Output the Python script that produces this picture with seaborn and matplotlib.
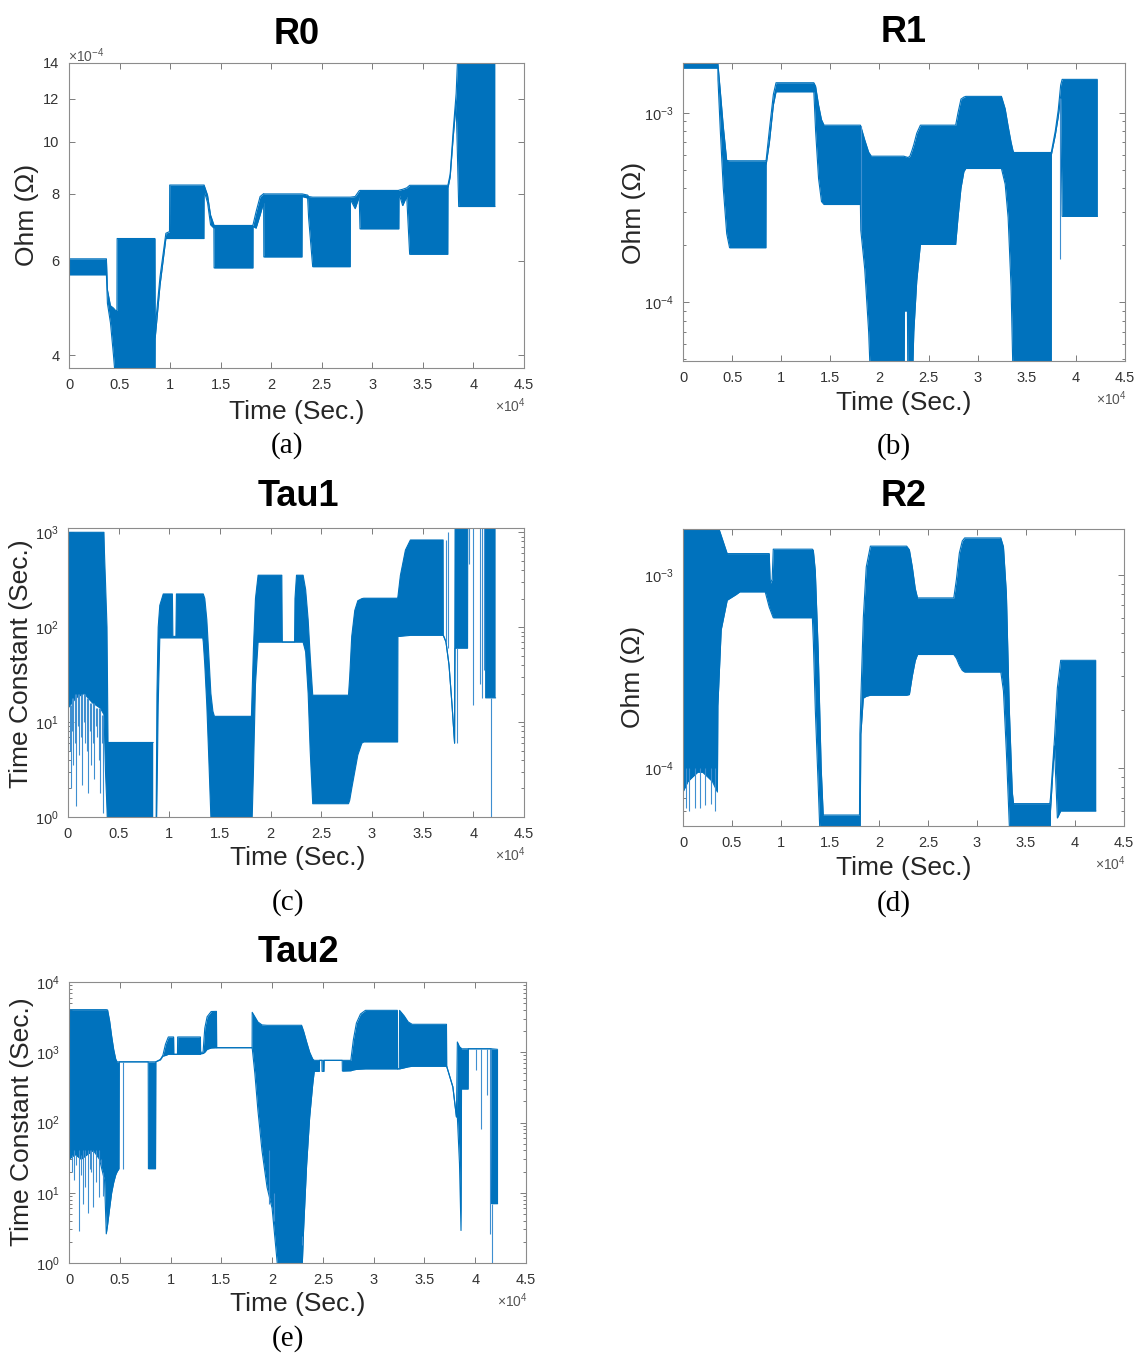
import numpy as np
import matplotlib
matplotlib.use("Agg")
import matplotlib.pyplot as plt
import seaborn as sns
from matplotlib.ticker import FixedLocator, NullLocator, LogLocator, NullFormatter

nan = np.nan

# ---------------- DATA (time in s, envelopes) ----------------
# R0 (x1e-4 Ohm)
r0_t  = [0, 3700, 3800, 4100, 4400, 4600, 4740, 4760, 8500, 8520, 9000, 9580, 9940, 9960, 13340,
         13360, 13700, 14000, 14330, 14350, 18190, 18200, 18500, 18900, 19250, 19270, 23040,
         23060, 23600, 23700, 24100, 27810, 27830, 28300, 28700, 28780, 32620, 32640, 33000,
         33400, 33690, 37460, 37480, 37700, 38000, 38290, 38540, 42120]
r0_hi = [6.05, 6.05, 5.3, 4.95, 4.9, 4.85, 4.85, 6.6, 6.6, 4.5, 5.6, 6.75, 6.8, 8.3, 8.3,
         8.3, 7.95, 7.3, 7.0, 6.98, 6.98, 7.0, 7.4, 7.9, 8.0, 7.99, 7.99,
         7.99, 7.95, 7.9, 7.88, 7.88, 7.88, 7.9, 8.1, 8.11, 8.11, 8.12, 8.15,
         8.2, 8.29, 8.29, 8.3, 8.7, 10.5, 12.3, 16.0, 16.0]
r0_lo = [5.65, 5.65, 5.0, 4.6, 4.0, 3.6, 3.5, 3.5, 3.5, 4.3, 5.4, 6.6, 6.6, 6.6, 6.6,
         8.1, 7.7, 7.0, 6.9, 5.82, 5.82, 6.95, 6.9, 7.3, 7.7, 6.1, 6.1,
         7.9, 7.85, 7.2, 5.85, 5.85, 7.8, 7.5, 7.9, 6.88, 6.88, 8.0, 7.6,
         7.9, 6.17, 6.17, 8.2, 8.6, 10.2, 11.8, 7.57, 7.57]
r0_yticks = [4, 6, 8, 10, 12, 14]

# R1 (x1e-4 Ohm)
r1_t  = [0, 3550, 3560, 3800, 4100, 4450, 4740, 8440, 8460, 8800, 9200, 9470, 13320,
         13500, 13800, 14100, 14360, 18060, 18100, 18500, 18900, 19170, 22500, 22550,
         22850, 22900, 23100, 23300, 23500, 23800, 24170, 27760, 28000, 28300, 28600,
         28790, 32420, 32800, 33100, 33400, 33600, 33680, 37490, 37500, 37900, 38200,
         38450, 38600, 42190]
r1_hi = [18.3, 18.3, 18.0, 13.0, 8.5, 5.6, 5.58, 5.58, 5.6, 8.2, 12.5, 14.4, 14.4,
         13.8, 11.0, 9.2, 8.6, 8.6, 8.5, 7.2, 6.2, 5.9, 5.9, 5.88,
         5.82, 5.8, 5.9, 6.3, 6.8, 7.8, 8.6, 8.6, 10.0, 11.8, 12.1,
         12.2, 12.2, 10.5, 8.5, 7.0, 6.3, 6.17, 6.17, 6.2, 8.0, 10.3,
         14.0, 15.0, 15.0]
r1_lo = [17.2, 17.2, 15.0, 8.0, 4.0, 2.3, 1.94, 1.94, 5.3, 7.0, 11.0, 12.9, 12.9,
         8.0, 4.5, 3.4, 3.28, 3.28, 2.4, 1.5, 0.7, 0.3, 0.3, 0.9,
         0.9, 0.3, 0.3, 0.3, 0.7, 1.3, 2.02, 2.02, 2.8, 4.0, 4.9,
         5.08, 5.08, 4.2, 2.8, 1.2, 0.4, 0.3, 0.3, 6.0, 7.6, 9.5,
         12.0, 2.84, 2.84]
r1_spk_t  = [18150, 38350]
r1_spk_lo = [2.4, 1.7]
r1_spk_hi = [8.5, 12.0]

# R2 (x1e-4 Ohm)
r2_t  = [0, 500, 1000, 1500, 2000, 2500, 3000, 3510, 3560, 3900, 4510, 5400, 5800, 8390,
         8800, 8900, 9100, 9210, 13200, 13300, 13500, 13800, 14100, 14310, 18010, 18050,
         18150, 18400, 18700, 19120, 22820, 23100, 23400, 23700, 23930, 27630, 27900,
         28200, 28500, 28740, 32430, 32700, 33000, 33300, 33600, 33730, 37430, 37500,
         37900, 38200, 38540, 42120]
r2_hi = [18, 18, 18, 18, 18, 18, 18, 18, 18, 16, 12.9, 12.9, 12.9, 12.9,
         12.9, 9.0, 9.5, 13.6, 13.6, 13.4, 10.5, 4.0, 1.0, 0.57, 0.57, 1.5,
         2.3, 6.0, 11.0, 14.1, 14.1, 13.5, 11.0, 8.5, 7.6, 7.6, 9.5,
         13.0, 15.0, 15.55, 15.55, 14.0, 8.0, 2.0, 0.75, 0.653, 0.653, 0.7,
         1.4, 2.6, 3.61, 3.61]
r2_lo = [0.75, 0.85, 0.9, 0.95, 0.95, 0.9, 0.85, 0.75, 2.1, 5.2, 7.4, 7.9, 8.17, 8.17,
         6.8, 6.6, 6.2, 6.0, 6.0, 4.5, 2.0, 0.8, 0.3, 0.3, 0.3, 0.3,
         1.5, 2.3, 2.35, 2.38, 2.38, 2.4, 3.0, 3.6, 3.87, 3.87, 3.7,
         3.4, 3.2, 3.14, 3.14, 2.5, 1.2, 0.5, 0.3, 0.3, 0.3, 0.6,
         1.3, 0.55, 0.598, 0.598]
r2_spk_t  = [260, 630, 1180, 1740, 2290, 2850, 3220]
r2_spk_lo = [0.62, 0.6, 0.62, 0.62, 0.64, 0.65, 0.6]
r2_spk_hi = [1.0, 1.0, 1.0, 1.0, 1.0, 1.0, 1.0]

# Tau1 (s)
t1_t  = [0, 800, 1600, 2400, 3200, 3550, 3600, 3700, 3850, 3950, 8410, nan,
         8700, 8780, 8900, 9060, 9400, 10300, 10350, 10650, 10700, 13300, 13350, 13500,
         13700, 13900, 14100, 14300, 14450, 18050, 18100, 18300, 18500, 18760, 21100,
         21150, 22360, 22400, 22550, 23200, 23450, 23700, 23900, 24150, 27680, 27800,
         28000, 28300, 28600, 29000, 29190, 32530, 32560, 32800, 33300, 33790, 37020,
         37040, 37300, 37600, 37900, 38150, 38200, 39430, 39450, 41200, 41220, 42200]
t1_hi = [1000, 1000, 1000, 1000, 1000, 1000, 600, 300, 100, 6.1, 6.1, nan,
         1.0, 20, 100, 170, 224, 224, 80, 80, 224, 224, 224, 200,
         120, 50, 20, 13, 11.5, 11.5, 11.5, 60, 200, 353, 353,
         70, 70, 200, 353, 353, 250, 120, 50, 19.2, 19.2, 30,
         80, 150, 190, 200, 202, 202, 210, 350, 650, 830, 830,
         82, 70, 40, 15, 6, 1200, 1200, 1200, 1200, 1200, 1200]
t1_lo = [14, 18, 20, 16, 14, 12, 8, 3, 1.2, 0.5, 0.5, nan,
         0.5, 1.5, 15, 77, 77, 77, 77, 77, 77, 77, 70, 40,
         15, 4, 1, 0.5, 0.5, 0.5, 0.5, 3, 25, 69.5, 69.5,
         69.5, 69.5, 69.5, 69.5, 69.5, 55, 20, 5, 1.38, 1.38, 1.5,
         2.0, 3.0, 4.5, 6.0, 6.17, 6.17, 80, 80, 81, 82, 82,
         82, 70, 40, 15, 6, 60, 60, 1200, 1200, 18, 18]
t1_spk_t  = [150, 250, 400, 500, 650, 800, 950, 1100, 1250, 1400, 1550, 1700, 1850, 2000,
             2150, 2300, 2450, 2600, 2750, 2900, 3050, 3200, 3350, 3500,
             37300, 37460, 38400, 39600, 40000, 40700, 40900, 41050, 41770]
t1_spk_lo = [5, 2.0, 8, 3.5, 6, 1.3, 9, 4.5, 7, 2.2, 10, 6, 5, 1.8,
             8, 3.5, 6, 2.5, 9, 7, 4, 1.8, 6, 1.1,
             70, 60, 6, 460, 15, 25, 18, 35, 1.0]
t1_spk_hi = [15, 15, 18, 18, 20, 20, 20, 20, 20, 20, 20, 20, 18, 18,
             16, 16, 16, 16, 14, 14, 14, 14, 12, 12,
             830, 1000, 60, 1200, 1200, 1200, 1200, 1200, 18]

# Tau2 (s)
t2_t  = [0, 600, 1200, 1800, 2400, 3000, 3500, 3670, 3800, 4000, 4200, 4400, 4600, 4740,
         4920, 4950, 7800, 7820, 8520, 8550, 9000, 9240, 9500, 9780, 10300, 10320, 10680,
         10700, 12940, 12960, 13200, 13370, 13600, 14000, 14520, 14540, 18030, 18040,
         18300, 18600, 19000, 19500, 20000, 20700, 22900, 23100, 23400, 23700, 24000,
         24150, 24650, 24670, 24900, 24920, 25100, 25120, 26900, 26920, 27750, 28000,
         28300, 28700, 29190, 32330, 32350, 32530, 32550, 33000, 33400, 33790, 37170,
         37190, 37800, 38150, 38240, 38450, 38600, 38650, 39300, 39320, 41550, 41600, 42200]
t2_hi = [4040, 4040, 4040, 4040, 4040, 4040, 4040, 4040, 4000, 2800, 1700, 1100, 800, 730,
         730, 730, 730, 730, 730, 730, 790, 900, 1300, 1650, 1650, 935, 935,
         1650, 1650, 1000, 1000, 2200, 3200, 3800, 3820, 1160, 1160, 3700,
         3200, 2700, 2450, 2420, 2420, 2420, 2420, 2000, 1400, 1000, 800,
         767, 767, 767, 767, 767, 767, 767, 767, 767, 767, 1500,
         2600, 3500, 3950, 3950, 580, 580, 3950, 3300, 2700, 2500, 2500,
         631, 320, 120, 1400, 1200, 1150, 1120, 1120, 1120, 1120, 1120, 1100]
t2_lo = [30, 35, 30, 35, 40, 30, 15, 2.6, 3.5, 6, 10, 14, 18, 20,
         22, 730, 730, 22, 22, 730, 780, 880, 900, 935, 935, 935, 935,
         935, 935, 950, 960, 1000, 1100, 1150, 1160, 1160, 1160, 1150,
         500, 150, 40, 12, 6, 0.5, 0.5, 3, 25, 120, 350,
         535, 535, 767, 767, 535, 535, 767, 767, 540, 545, 560,
         570, 575, 580, 580, 580, 580, 580, 600, 620, 631, 631,
         631, 320, 120, 120, 26, 2.9, 300, 300, 1120, 1120, 7, 7]
t2_spk_t  = [300, 500, 700, 970, 1150, 1330, 1600, 1870, 2050, 2200, 2410, 2700, 2950, 3150,
             3300, 5280, 19660, 20200, 22950, 40100, 40600, 41200, 41500, 41700]
t2_spk_lo = [20, 15, 25, 2.9, 18, 7, 12, 5.1, 22, 20, 6.3, 14, 8.8, 25,
             9, 22, 7, 4, 1.8, 550, 80, 250, 2.6, 1.0]
t2_spk_hi = [35, 40, 35, 40, 35, 40, 40, 40, 40, 40, 40, 40, 40, 30,
             20, 730, 40, 10, 2.4, 1120, 1120, 1120, 1120, 7]

time_ticks = [0, 5000, 10000, 15000, 20000, 25000, 30000, 35000, 40000, 45000]
time_labels = ["0", "0.5", "1", "1.5", "2", "2.5", "3", "3.5", "4", "4.5"]

# ---------------- STYLE ----------------
sns.set_theme(style="white")
plt.rcParams["font.family"] = ["Liberation Sans", "DejaVu Sans"]
plt.rcParams["mathtext.fontset"] = "custom"
plt.rcParams["mathtext.rm"] = "Liberation Sans"
plt.rcParams["mathtext.it"] = "Liberation Sans:italic"

BLUE = "#0072BD"
LIGHT = "#3f8fd0"
W, H = 1139, 1353

fig = plt.figure(figsize=(W / 100, H / 100), dpi=100)


def add_axes(l, t, r, b):
    return fig.add_axes([l / W, 1 - b / H, (r - l) / W, (b - t) / H])


def draw(ax, t, hi, lo, scale, spk=None):
    t = np.asarray(t, float)
    hi = np.asarray(hi, float) * scale
    lo = np.asarray(lo, float) * scale
    ax.fill_between(t, lo, hi, color=BLUE, lw=0, interpolate=False)
    ax.plot(t, hi, color=BLUE, lw=0.8)
    ax.plot(t, lo, color=BLUE, lw=0.8)
    if spk is not None:
        st, slo, shi = spk
        ax.vlines(st, np.asarray(slo) * scale, np.asarray(shi) * scale, color=LIGHT, lw=0.8)


def style(ax, ylim):
    ax.set_yscale("log")
    ax.set_xlim(0, 45000)
    ax.set_ylim(*ylim)
    ax.xaxis.set_major_locator(FixedLocator(time_ticks))
    ax.set_xticklabels(time_labels)
    for s in ax.spines.values():
        s.set_color("#8c8c8c")
        s.set_linewidth(0.8)
    ax.tick_params(which="both", direction="in", top=True, right=True, bottom=True, left=True,
                   color="#666666", width=0.6, labelcolor="#333333", labelsize=10.5, pad=7)
    ax.tick_params(which="major", length=4)
    ax.tick_params(which="minor", length=2.5)
    ax.set_facecolor("white")


def texts(cx, title, ty, ylab, yx, yy, xly, cap, capy, ax_r, ax_b, size_title=26):
    fig.text(cx / W, 1 - ty / H, title, ha="center", va="center", fontsize=size_title,
             fontweight="bold", color="black")
    fig.text(yx / W, 1 - yy / H, ylab, ha="center", va="center", rotation=90,
             fontsize=19, color="#262626")
    fig.text(cx / W, 1 - xly / H, "Time (Sec.)", ha="center", va="center", fontsize=19,
             color="#262626")
    fig.text((cx - 10) / W, 1 - capy / H, cap, ha="center", va="center", fontsize=21,
             family=["Liberation Serif", "DejaVu Serif"], color="black")
    fig.text((ax_r - 14) / W, 1 - (ax_b + 38) / H, r"$\times10^{4}$", ha="center", va="center",
             fontsize=10, color="#555555")


# (a) R0
ax = add_axes(69, 63, 524, 368)
draw(ax, r0_t, r0_hi, r0_lo, 1e-4)
style(ax, (3.79e-4, 14e-4))
ax.yaxis.set_major_locator(FixedLocator([v * 1e-4 for v in r0_yticks]))
ax.yaxis.set_minor_locator(NullLocator())
ax.set_yticklabels([str(v) for v in r0_yticks])
fig.text(86 / W, 1 - 56 / H, r"$\times10^{-4}$", ha="center", va="center", fontsize=10,
         color="#555555")
texts(297, "R0", 35, "Ohm (\u03a9)", 27, 215, 412, "(a)", 446, 524, 368)

# (b) R1
ax = add_axes(683, 63, 1125, 361)
draw(ax, r1_t, r1_hi, r1_lo, 1e-4, (r1_spk_t, r1_spk_lo, r1_spk_hi))
style(ax, (4.9e-5, 1.83e-3))
ax.yaxis.set_minor_locator(LogLocator(base=10, subs=np.arange(2, 10)))
ax.yaxis.set_minor_formatter(NullFormatter())
texts(904, "R1", 33, "Ohm (\u03a9)", 634, 213, 403, "(b)", 447, 1125, 361)

# (c) Tau1
ax = add_axes(68, 528, 524, 817)
draw(ax, t1_t, t1_hi, t1_lo, 1.0, (t1_spk_t, t1_spk_lo, t1_spk_hi))
style(ax, (1, 1.11e3))
ax.yaxis.set_minor_locator(LogLocator(base=10, subs=np.arange(2, 10)))
ax.yaxis.set_minor_formatter(NullFormatter())
texts(298, "Tau1", 497, "Time Constant (Sec.)", 21, 664, 858, "(c)", 903, 524, 817)

# (d) R2
ax = add_axes(683, 529, 1124, 826)
draw(ax, r2_t, r2_hi, r2_lo, 1e-4, (r2_spk_t, r2_spk_lo, r2_spk_hi))
style(ax, (5e-5, 1.73e-3))
ax.yaxis.set_minor_locator(LogLocator(base=10, subs=np.arange(2, 10)))
ax.yaxis.set_minor_formatter(NullFormatter())
texts(904, "R2", 497, "Ohm (\u03a9)", 633, 677, 868, "(d)", 904, 1124, 826)

# (e) Tau2
ax = add_axes(69, 982, 526, 1263)
draw(ax, t2_t, t2_hi, t2_lo, 1.0, (t2_spk_t, t2_spk_lo, t2_spk_hi))
style(ax, (1, 1e4))
ax.yaxis.set_minor_locator(LogLocator(base=10, subs=np.arange(2, 10)))
ax.yaxis.set_minor_formatter(NullFormatter())
texts(298, "Tau2", 952, "Time Constant (Sec.)", 22, 1122, 1304, "(e)", 1339, 526, 1263)

fig.savefig("out.png", dpi=100, facecolor="white")
